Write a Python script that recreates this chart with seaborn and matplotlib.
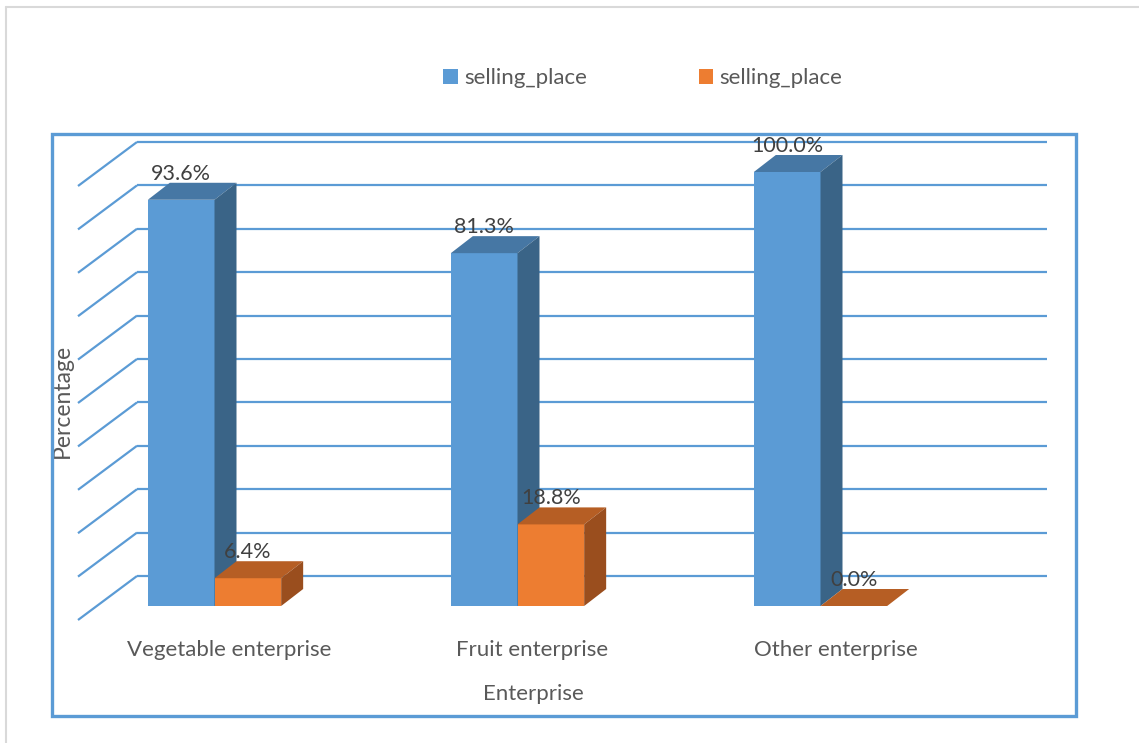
import numpy as np
import pandas as pd
import matplotlib
matplotlib.use("Agg")
import matplotlib.pyplot as plt
from matplotlib.patches import Polygon, Rectangle, Patch
from matplotlib.lines import Line2D
import seaborn as sns

# ---- data ----
categories = ["Vegetable enterprise", "Fruit enterprise", "Other enterprise"]
series_names = ["selling_place", "selling_place"]
series_a = [93.6, 81.3, 100.0]
series_b = [6.4, 18.8, 0.0]
grid_ticks = list(range(0, 101, 10))
x_title = "Enterprise"
y_title = "Percentage"

df = pd.DataFrame({
    "category": categories * 2,
    "series": ["s1"] * 3 + ["s2"] * 3,
    "value": series_a + series_b,
})

sns.set_theme(style="white")
plt.rcParams["font.family"] = ["Lato", "DejaVu Sans"]

W, H = 1139, 743
fig = plt.figure(figsize=(W / 100, H / 100), dpi=100)
ax = fig.add_axes([0, 0, 1, 1])

# pixel geometry mapping: group center 0 at px 214.5, 303 px per category; 0% at px 606 (from top), 4.34 px per %
SX, SY = 303.0, 4.34
X0, Y0 = 214.5, 606.0

blue, orange = "#5B9BD5", "#ED7D31"
top_cols = {"s1": "#4677A4", "s2": "#B65E24"}
side_cols = {"s1": "#3A6487", "s2": "#9A4E1E"}

sns.barplot(data=df, x="category", y="value", hue="series", order=categories,
            hue_order=["s1", "s2"], palette={"s1": blue, "s2": orange}, saturation=1,
            width=0.44, errorbar=None, linewidth=0, ax=ax, legend=False)

ax.set_xlim(-X0 / SX, (W - X0) / SX)
ax.set_ylim(-(H - Y0) / SY, Y0 / SY)
ax.axis("off")

# depth of bars (px -> data)
ddx, ddy = 22 / SX, 17 / SY

patches = list(ax.patches)
for i, p in enumerate(patches):
    key = "s1" if i < 3 else "s2"
    z = 3 if key == "s1" else 4
    p.set_zorder(z)
    x, w, h = p.get_x(), p.get_width(), p.get_height()
    top = Polygon([(x, h), (x + w, h), (x + w + ddx, h + ddy), (x + ddx, h + ddy)],
                  closed=True, facecolor=top_cols[key], edgecolor="none", zorder=z)
    ax.add_patch(top)
    if h > 0:
        side = Polygon([(x + w, 0), (x + w, h), (x + w + ddx, h + ddy), (x + w + ddx, ddy)],
                       closed=True, facecolor=side_cols[key], edgecolor="none", zorder=z)
        ax.add_patch(side)
    ax.text(x + w / 2, h + 26 / SY, f"{h:.1f}%", ha="center", va="center",
            fontsize=15.5, color="#404040", zorder=6)

# back wall gridlines and left-wall diagonals
gx0, gx1 = (137 - X0) / SX, (1047 - X0) / SX
back_dy = 30 / SY
front_dy = -14 / SY
dx_front = (78 - X0) / SX
for v in grid_ticks:
    ax.plot([gx0, gx1], [v + back_dy, v + back_dy], color=blue, lw=1.6, zorder=1,
            solid_capstyle="butt")
    ax.plot([dx_front, gx0], [v + front_dy, v + back_dy], color=blue, lw=1.6, zorder=1,
            solid_capstyle="butt")

# category labels
for i, c in enumerate(categories):
    ax.text(i + 15 / SX, -(650 - Y0) / SY, c, ha="center", va="center",
            fontsize=16, color="#595959")

# axis titles
ax.text((533 - X0) / SX, -(694 - Y0) / SY, x_title, ha="center", va="center",
        fontsize=16, color="#595959")
ax.text((62 - X0) / SX, (Y0 - 401) / SY, y_title, ha="center", va="center",
        rotation=90, fontsize=16.5, color="#595959")

# plot area border
fig.patches.append(Rectangle((52 / W, 1 - 716 / H), (1076 - 52) / W, (716 - 134) / H,
                             transform=fig.transFigure, fill=False, edgecolor=blue,
                             lw=2.4, zorder=0))
# chart area (light grey) edges
fig.add_artist(Line2D([6 / W, 1], [1 - 7 / H, 1 - 7 / H], transform=fig.transFigure,
                      color="#D9D9D9", lw=1.5))
fig.add_artist(Line2D([6 / W, 6 / W], [0, 1 - 7 / H], transform=fig.transFigure,
                      color="#D9D9D9", lw=1.5))

# legend
handles = [Patch(facecolor=blue, edgecolor="none"), Patch(facecolor=orange, edgecolor="none")]
leg = fig.legend(handles, series_names, loc="center", bbox_to_anchor=(643 / W, 1 - 78 / H),
                 ncol=2, frameon=False, fontsize=16, handlelength=0.65, handleheight=0.65,
                 handletextpad=0.3, columnspacing=5.0, labelcolor="#595959")

fig.savefig("out.png", dpi=100)
